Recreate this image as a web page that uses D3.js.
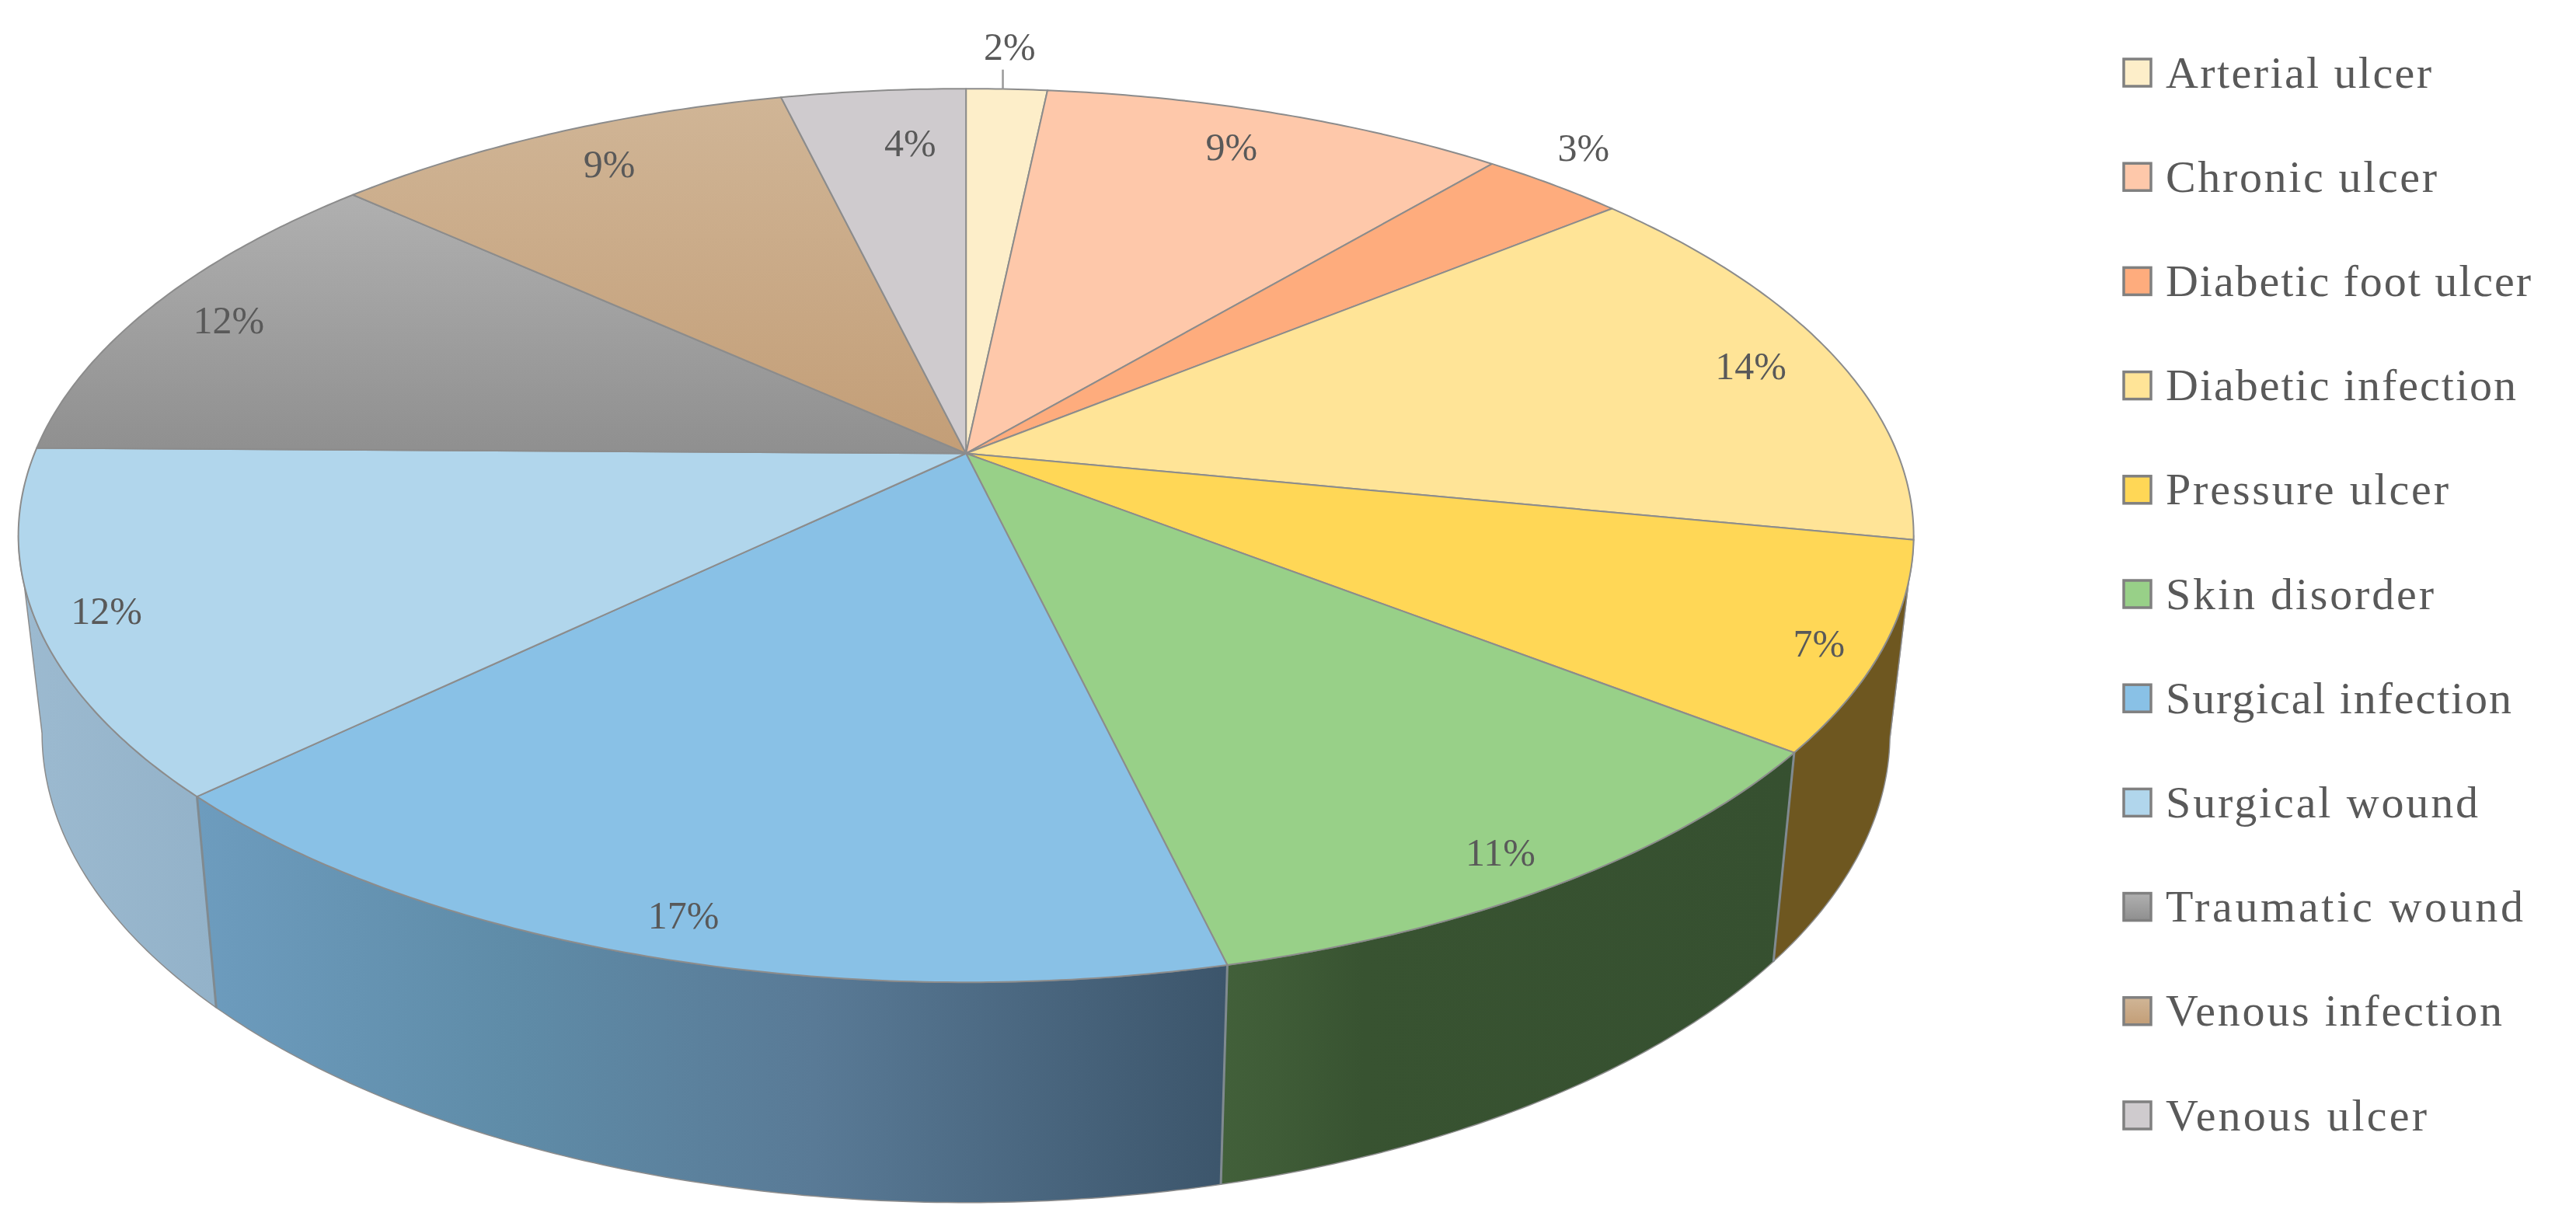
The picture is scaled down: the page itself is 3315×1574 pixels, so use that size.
<!DOCTYPE html>
<html><head><meta charset="utf-8">
<script src="https://cdn.jsdelivr.net/npm/d3@7/dist/d3.min.js"></script>
<style>html,body{margin:0;padding:0;background:#fff}svg{display:block}text{font-family:"Liberation Serif",serif;fill:#595959}</style>
</head><body><svg id="c" width="3315" height="1574"></svg>
<script>
const categories=["Arterial ulcer","Chronic ulcer","Diabetic foot ulcer","Diabetic infection","Pressure ulcer","Skin disorder","Surgical infection","Surgical wound","Traumatic wound","Venous infection","Venous ulcer"];
const values=[1.65,9.49,2.95,14.0,7.45,10.76,16.5,12.4,11.55,9.49,3.76];
const topColors=["#fdeec9","#fec8aa","#feac7d","#ffe497","#ffd756","#98d088","#89c1e6","#b1d6ec","#a3a3a3","#c9aa86","#cfcbce"];

// layout
const S=3315/1568;
const svg=d3.select("#c"), defs=svg.append("defs");
const apex=[588*S,276*S], A=262.8*S, B=567*S, K=-0.1838;
const wallX=0.975, wallY=1.05, wallDrop=118*S;
const project=(t,f=1)=>{const x=f*Math.sin(t),y=-f*Math.cos(t),d=1+K*y;return [apex[0]+B*x/d,apex[1]+A*y/d];};
const lower=p=>[apex[0]+wallX*(p[0]-apex[0]),apex[1]+wallDrop+wallY*(p[1]-apex[1])];
const tMin=Math.PI-Math.acos(0.1838), tMax=2*Math.PI-tMin;
const arc=(a,b)=>{const n=Math.max(2,Math.ceil((b-a)/0.01));const s=d3.scaleLinear().domain([0,n]).range([a,b]);return d3.range(n+1).map(i=>project(s(i)));};
const line=d3.line();
const slices=d3.pie().sort(null).value(d=>d)(values);

// gradients
function grad(id,horizontal,x1,x2,stops){
  const g=defs.append("linearGradient").attr("id",id).attr("gradientUnits","userSpaceOnUse");
  if(horizontal) g.attr("x1",x1).attr("x2",x2).attr("y1",0).attr("y2",0); else g.attr("y1",x1).attr("y2",x2).attr("x1",0).attr("x2",0);
  stops.forEach(s=>g.append("stop").attr("offset",s[0]).attr("stop-color",s[1]));
}
grad("w4",true,0,3315,[[0,"#6e5720"],[1,"#6e5720"]]);
grad("w5",true,1570,2310,[[0,"#42603a"],[0.1,"#3f5c37"],[0.25,"#385331"],[1,"#365030"]]);
grad("w6",true,255,1580,[[0,"#6d9cbe"],[0.3,"#5f8ca8"],[0.6,"#597a96"],[1,"#3c556b"]]);
grad("w7",true,25,280,[[0,"#9cbad0"],[1,"#93b2c9"]]);
grad("t8",false,250,585,[[0,"#b0b0b0"],[1,"#8f8f8f"]]);
grad("t9",false,125,585,[[0,"#d0b596"],[1,"#c39e77"]]);
const topFill=(d,i)=>i===8?"url(#t8)":i===9?"url(#t9)":topColors[i];
const edge="#8c8c8c";

// walls
slices.forEach((d,i)=>{
  const a=Math.max(d.startAngle,tMin), b=Math.min(d.endAngle,tMax);
  if(b<=a) return;
  const t=arc(a,b), bt=t.map(lower).reverse();
  svg.append("path").attr("d",line(t.concat(bt))+"Z").attr("fill",`url(#w${i})`)
     .attr("stroke",edge).attr("stroke-width",1.5).attr("stroke-linejoin","round");
});
// wall seams
slices.forEach(d=>{
  if(d.endAngle>tMin+0.01&&d.endAngle<tMax-0.01){
    const p=project(d.endAngle);
    svg.append("path").attr("d",line([p,lower(p)])).attr("stroke","#808a90").attr("stroke-width",3).attr("fill","none");
  }
});
// top faces
slices.forEach((d,i)=>{
  svg.append("path").attr("d",line([apex].concat(arc(d.startAngle,d.endAngle)))+"Z")
     .attr("fill",topFill(d,i)).attr("stroke",edge).attr("stroke-width",2).attr("stroke-linejoin","round");
});

// data labels
const labelRadius=[1.14,0.88,1.115,0.9,0.94,0.93,0.93,0.93,0.9,0.88,0.83];
const labelTurn=[-0.002,-0.02,-0.04,0.01,0.02,0.015,-0.01,0,-0.005,0.015,0.035];
slices.forEach((d,i)=>{
  const m=(d.startAngle+d.endAngle)/2+labelTurn[i], p=project(m,labelRadius[i]);
  svg.append("text").attr("x",p[0]).attr("y",p[1]).attr("dy","0.33em").attr("text-anchor","middle")
     .attr("font-size",50).text(Math.round(d.value)+"%");
});
const lead=slices[0], lp=project((lead.startAngle+lead.endAngle)/2-0.005,1);
svg.append("path").attr("d",line([lp,[lp[0],lp[1]-25]])).attr("stroke","#999").attr("stroke-width",2.5).attr("fill","none");

// legend
const legendY=d3.scalePoint().domain(categories).range([93.5,1435.5]);
const legendTextWidth=[342,349,470,451,364,345,445,402,460,433,336];
const lg=svg.append("g");
categories.forEach((c,i)=>{
  const y=legendY(c);
  const fill=i===8?"url(#l8b)":i===9?"url(#l9b)":topColors[i];
  lg.append("rect").attr("x",2733).attr("y",y-17.5).attr("width",35).attr("height",35)
    .attr("fill",fill).attr("stroke","#808080").attr("stroke-width",3.5);
  lg.append("text").attr("x",2787).attr("y",y).attr("dy","0.33em").attr("font-size",58)
    .attr("textLength",legendTextWidth[i]).attr("lengthAdjust","spacing").text(c);
});
[["l8b",8,"#b0b0b0","#8f8f8f"],["l9b",9,"#d0b596","#c39e77"]].forEach(r=>{
  const y=legendY(categories[r[1]]);
  grad(r[0],false,y-17,y+17,[[0,r[2]],[1,r[3]]]);
});
</script></body></html>
